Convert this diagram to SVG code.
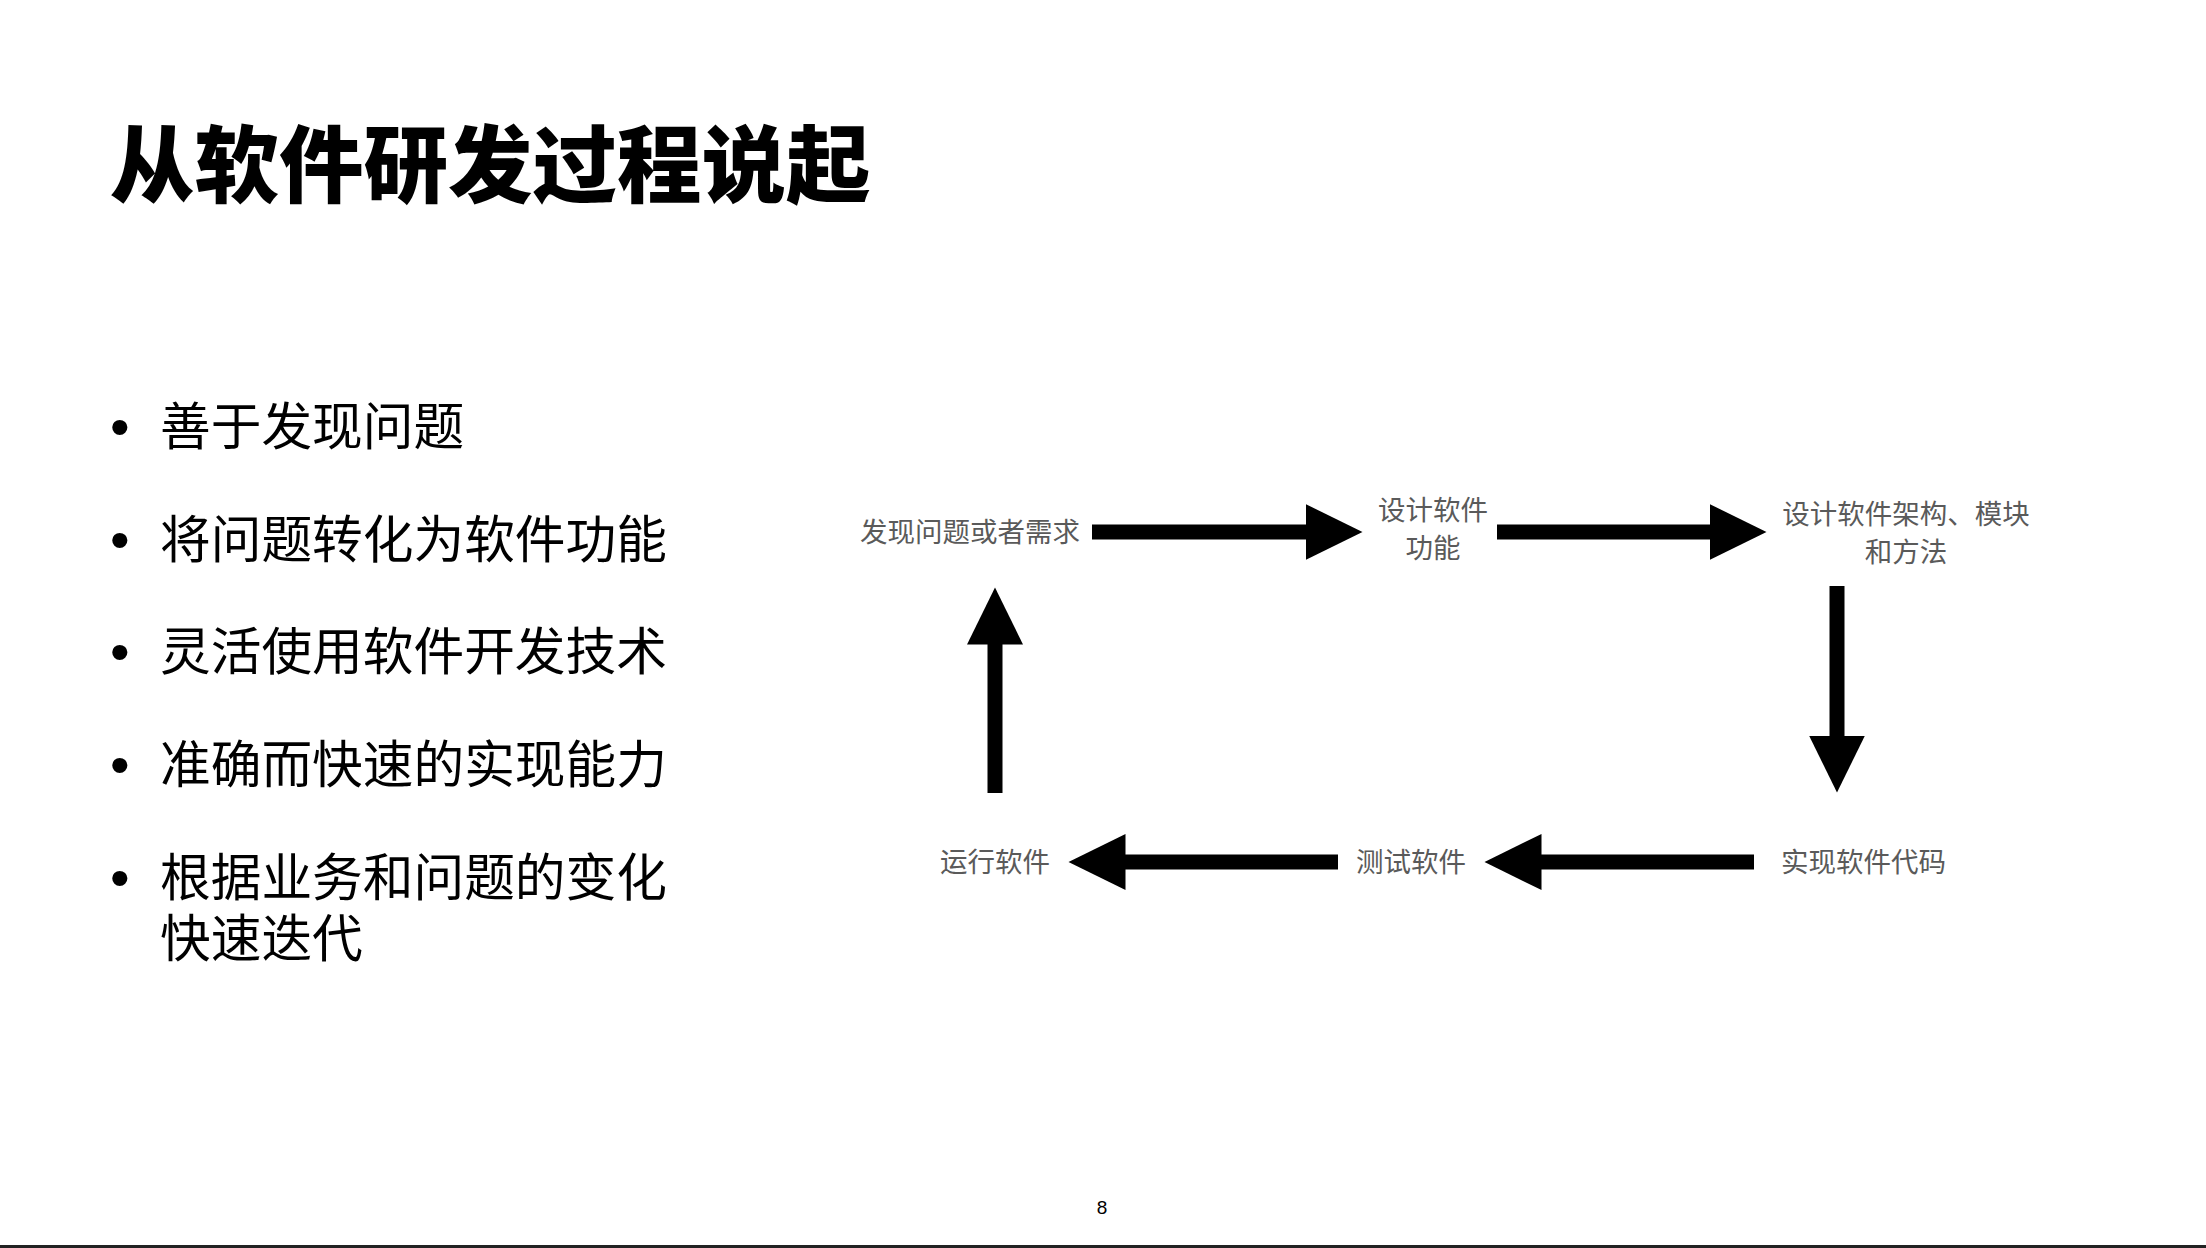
<svg xmlns="http://www.w3.org/2000/svg" width="2206" height="1248" viewBox="0 0 2206 1248">
<style>
.title{font-family:"Noto Sans CJK SC","Noto Sans",sans-serif;font-weight:900;font-size:84.5px;fill:#000}
.bul{font-family:"Noto Sans CJK SC","Noto Sans",sans-serif;font-size:50.7px;fill:#000}
.dot{font-family:"Liberation Sans",sans-serif;font-size:56px;fill:#000}
.lbl{font-family:"Noto Sans CJK SC","Noto Sans",sans-serif;font-size:27.5px;fill:#5a5a5a}
.pg{font-family:"Liberation Sans",sans-serif;font-size:19px;fill:#000}
.arr{stroke:#000;stroke-width:15;fill:none;marker-end:url(#head)}
</style>
<defs>
<marker id="head" markerUnits="userSpaceOnUse" markerWidth="58" markerHeight="56" refX="0.5" refY="28" orient="auto" viewBox="0 0 58 56">
<path d="M0,0 L57,28 L0,56 z" fill="#000"/>
</marker>
</defs>
<rect width="2206" height="1248" fill="#fff"/>
<g id="title"><text class="title" x="110" y="196">从软件研发过程说起</text></g>
<g id="bullets">
<text class="dot" x="110" y="446">•</text><text class="bul" x="160" y="445">善于发现问题</text>
<text class="dot" x="110" y="559">•</text><text class="bul" x="160" y="558">将问题转化为软件功能</text>
<text class="dot" x="110" y="671">•</text><text class="bul" x="160" y="670">灵活使用软件开发技术</text>
<text class="dot" x="110" y="784">•</text><text class="bul" x="160" y="783">准确而快速的实现能力</text>
<text class="dot" x="110" y="897">•</text><text class="bul" x="160" y="896">根据业务和问题的变化<tspan x="160" y="957">快速迭代</tspan></text>
</g>
<g id="n-discover"><text class="lbl" x="860" y="542">发现问题或者需求</text></g>
<g id="n-design-func"><text class="lbl" x="1433" y="520" text-anchor="middle">设计软件</text><text class="lbl" x="1433" y="558" text-anchor="middle">功能</text></g>
<g id="n-design-arch"><text class="lbl" x="1906" y="524" text-anchor="middle">设计软件架构、模块</text><text class="lbl" x="1906" y="562" text-anchor="middle">和方法</text></g>
<g id="n-implement"><text class="lbl" x="1781" y="872">实现软件代码</text></g>
<g id="n-test"><text class="lbl" x="1356" y="872">测试软件</text></g>
<g id="n-run"><text class="lbl" x="940" y="872">运行软件</text></g>
<g id="connectors">
<line class="arr" x1="1092" y1="532" x2="1306" y2="532"/>
<line class="arr" x1="1497" y1="532" x2="1710" y2="532"/>
<line class="arr" x1="1837" y1="586" x2="1837" y2="736"/>
<line class="arr" x1="1754" y1="862" x2="1541" y2="862"/>
<line class="arr" x1="1338" y1="862" x2="1125" y2="862"/>
<line class="arr" x1="995" y1="793" x2="995" y2="644"/>
</g>
<g id="footer">
<text class="pg" x="1102" y="1214" text-anchor="middle">8</text>
<rect x="0" y="1245" width="2206" height="3" fill="#222"/>
</g>
</svg>
